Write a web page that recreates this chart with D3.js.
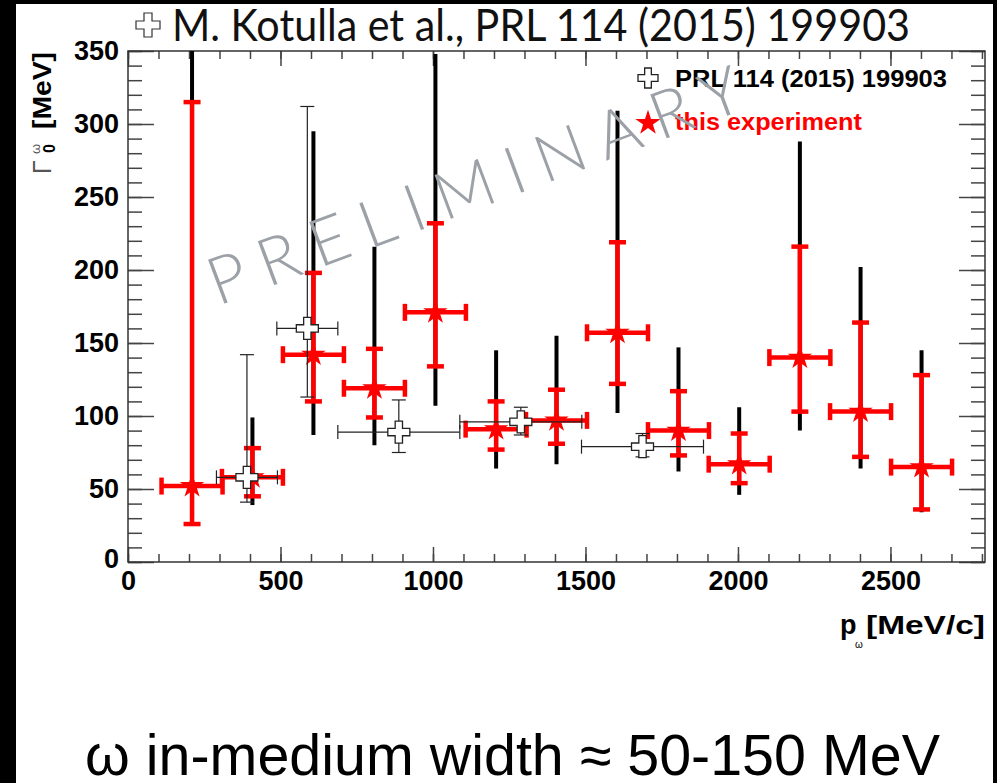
<!DOCTYPE html>
<html>
<head>
<meta charset="utf-8">
<script src="https://cdn.jsdelivr.net/npm/d3@7"></script>
<style>
  html, body { margin: 0; padding: 0; background: #000; }
  svg { display: block; }
</style>
</head>
<body>
<script>
// ---- data: this experiment (red stars) ----
const expP = [210, 408, 608, 808, 1008, 1207, 1405, 1605, 1805, 2004, 2203, 2402, 2602];
const expPErr = [100, 100, 100, 100, 100, 100, 100, 100, 100, 100, 100, 100, 100];
const expWidth = [52, 58, 142, 119, 171, 91, 97, 157, 90, 67, 140, 103, 65];
const expStatLo = [26, 45, 110, 99, 134, 77, 81, 122, 73, 54, 103, 72, 36];
const expStatHi = [315, 78, 198, 146, 232, 110, 118, 219, 117, 88, 216, 164, 128];
const expSysLo = [30, 39, 87, 80, 107, 64, 67, 102, 62, 46, 90, 64, 34];
const expSysHi = [400, 99, 295, 216, 348, 145, 155, 309, 147, 106, 288, 202, 145];

// ---- data: PRL 114 (2015) 199903 (open crosses) ----
const prlP = [390, 588, 888, 1288, 1687];
const prlPErr = [100, 100, 200, 200, 200];
const prlWidth = [58, 160, 89, 96, 79];
const prlLo = [41, 113, 75, 87, 72];
const prlHi = [142, 312, 111, 106, 88];

const xMajor = [0, 500, 1000, 1500, 2000, 2500];
const yMajor = [0, 50, 100, 150, 200, 250, 300, 350];

const titleText = 'M. Kotulla et al., PRL 114 (2015) 199903';
const footText = 'ω in-medium width ≈ 50-150 MeV';
const legendPrl = 'PRL 114 (2015) 199903';
const legendExp = 'this experiment';
const watermark = 'PRELIMINARY';

const W = 997, H = 783;
const frame = { left: 128, right: 985, top: 51, bottom: 562 };
const RED = '#ff0000';
const SANS = '"Liberation Sans", Arial, sans-serif';

const svg = d3.select('body').append('svg').attr('width', W).attr('height', H);

// slide background with black border
svg.append('rect').attr('width', W).attr('height', H).attr('fill', '#000');
svg.append('rect').attr('x', 16).attr('y', 4).attr('width', 977).attr('height', H - 4).attr('fill', '#fff');

const x = d3.scaleLinear().domain([0, 2810]).range([frame.left, frame.right]);
const y = d3.scaleLinear().domain([0, 350]).range([frame.bottom, frame.top]);

function crossPath(s) {
  const a = s / 2, b = s / 6;
  return `M${-b},${-a}H${b}V${-b}H${a}V${b}H${b}V${a}H${-b}V${b}H${-a}V${-b}H${-b}Z`;
}

// ---- title ----
svg.append('path')
  .attr('d', crossPath(24))
  .attr('transform', 'translate(148,25)')
  .attr('fill', '#fff').attr('stroke', '#333').attr('stroke-width', 1.2);
svg.append('text')
  .attr('x', 172).attr('y', 41)
  .attr('font-family', 'Lato, "Open Sans", sans-serif')
  .attr('font-size', 44)
  .attr('textLength', 738).attr('lengthAdjust', 'spacingAndGlyphs')
  .attr('fill', '#111')
  .text(titleText);

// ---- axes ----
const axes = svg.append('g');
const tickCol = '#444';

function styleAxis(g) {
  g.select('.domain').remove();
  g.selectAll('line').attr('stroke', tickCol).attr('stroke-width', 1.5);
}

// bottom
axes.append('g').attr('transform', `translate(0,${frame.bottom})`)
  .call(d3.axisBottom(x).tickValues(d3.range(0, 2801, 100)).tickSize(-8).tickFormat(''))
  .call(styleAxis);
const xb = axes.append('g').attr('transform', `translate(0,${frame.bottom})`)
  .call(d3.axisBottom(x).tickValues(xMajor).tickSizeInner(-15).tickSizeOuter(0).tickPadding(9).tickFormat(d3.format('d')))
  .call(styleAxis);
// top
axes.append('g').attr('transform', `translate(0,${frame.top})`)
  .call(d3.axisTop(x).tickValues(d3.range(0, 2801, 100)).tickSize(-8).tickFormat(''))
  .call(styleAxis);
axes.append('g').attr('transform', `translate(0,${frame.top})`)
  .call(d3.axisTop(x).tickValues(xMajor).tickSize(-15).tickFormat(''))
  .call(styleAxis);
// left
axes.append('g').attr('transform', `translate(${frame.left},0)`)
  .call(d3.axisLeft(y).tickValues(d3.range(0, 351, 10)).tickSize(-14).tickFormat(''))
  .call(styleAxis);
const yl = axes.append('g').attr('transform', `translate(${frame.left},0)`)
  .call(d3.axisLeft(y).tickValues(yMajor).tickSizeInner(-26).tickSizeOuter(0).tickPadding(9).tickFormat(d3.format('d')))
  .call(styleAxis);
// right
axes.append('g').attr('transform', `translate(${frame.right},0)`)
  .call(d3.axisRight(y).tickValues(d3.range(0, 351, 10)).tickSize(-14).tickFormat(''))
  .call(styleAxis);
axes.append('g').attr('transform', `translate(${frame.right},0)`)
  .call(d3.axisRight(y).tickValues(yMajor).tickSize(-26).tickFormat(''))
  .call(styleAxis);

[xb, yl].forEach(g => g.selectAll('text')
  .attr('font-family', SANS)
  .attr('font-weight', 'bold')
  .attr('font-size', 27)
  .attr('fill', '#000'));
yl.selectAll('.tick').filter(d => d === 0).select('text').attr('dy', '0.2em');

// frame
svg.append('rect')
  .attr('x', frame.left).attr('y', frame.top)
  .attr('width', frame.right - frame.left).attr('height', frame.bottom - frame.top)
  .attr('fill', 'none').attr('stroke', '#333').attr('stroke-width', 1.5);

// ---- axis titles ----
const xt = svg.append('g')
  .attr('font-family', SANS)
  .attr('font-weight', 'bold').attr('fill', '#000');
xt.append('text').attr('x', 840).attr('y', 634).attr('font-size', 27).text('p');
xt.append('text').attr('x', 855).attr('y', 648).attr('font-size', 10).attr('font-weight', 'normal').text('ω');
xt.append('text').attr('x', 866).attr('y', 634).attr('font-size', 26)
  .attr('textLength', 119).attr('lengthAdjust', 'spacingAndGlyphs').text('[MeV/c]');

const yt = svg.append('g').attr('transform', 'translate(51,0) rotate(-90)')
  .attr('font-family', SANS);
yt.append('text').attr('x', -174).attr('y', 0).attr('font-size', 25).attr('fill', '#555').text('Γ');
yt.append('text').attr('x', -153).attr('y', 4).attr('font-size', 16).attr('font-weight', 'bold').text('0');
yt.append('text').attr('x', -154).attr('y', -11).attr('font-size', 13).attr('fill', '#555').text('ω');
yt.append('text').attr('x', -129).attr('y', 0).attr('font-size', 26).attr('font-weight', 'bold')
  .attr('textLength', 77).attr('lengthAdjust', 'spacingAndGlyphs').text('[MeV]');

// ---- data ----
svg.append('clipPath').attr('id', 'plot-clip').append('rect')
  .attr('x', frame.left).attr('y', frame.top)
  .attr('width', frame.right - frame.left).attr('height', frame.bottom - frame.top);
const plot = svg.append('g').attr('clip-path', 'url(#plot-clip)');

const exp = expP.map((p, i) => ({
  p, dp: expPErr[i], w: expWidth[i],
  lo: expStatLo[i], hi: expStatHi[i], slo: expSysLo[i], shi: expSysHi[i]
}));
const prl = prlP.map((p, i) => ({ p, dp: prlPErr[i], w: prlWidth[i], lo: prlLo[i], hi: prlHi[i] }));

// systematic errors (black thick bars)
plot.append('g').selectAll('line').data(exp).join('line')
  .attr('x1', d => x(d.p)).attr('x2', d => x(d.p))
  .attr('y1', d => y(d.slo)).attr('y2', d => y(d.shi))
  .attr('stroke', '#000').attr('stroke-width', 4);

// statistical errors (red)
const eg = plot.append('g').attr('stroke', RED).attr('stroke-width', 4.5).attr('fill', 'none');
eg.selectAll('.v').data(exp).join('line')
  .attr('x1', d => x(d.p)).attr('x2', d => x(d.p))
  .attr('y1', d => y(d.lo)).attr('y2', d => y(d.hi));
eg.selectAll('.h').data(exp).join('line')
  .attr('x1', d => x(d.p - d.dp)).attr('x2', d => x(d.p + d.dp))
  .attr('y1', d => y(d.w)).attr('y2', d => y(d.w));
eg.selectAll('.cy').data(exp.flatMap(d => [[d.p, d.lo], [d.p, d.hi]])).join('line')
  .attr('x1', d => x(d[0]) - 8.5).attr('x2', d => x(d[0]) + 8.5)
  .attr('y1', d => y(d[1])).attr('y2', d => y(d[1]));
eg.selectAll('.cx').data(exp.flatMap(d => [[d.p - d.dp, d.w], [d.p + d.dp, d.w]])).join('line')
  .attr('x1', d => x(d[0])).attr('x2', d => x(d[0]))
  .attr('y1', d => y(d[1]) - 8.5).attr('y2', d => y(d[1]) + 8.5);

const star = d3.symbol().type(d3.symbolStar).size(185);
plot.append('g').selectAll('path').data(exp).join('path')
  .attr('d', star)
  .attr('transform', d => `translate(${x(d.p)},${y(d.w)})`)
  .attr('fill', RED);

// PRL points (thin black errors, open crosses)
const pg = plot.append('g').attr('stroke', '#222').attr('stroke-width', 1.2).attr('fill', 'none');
pg.selectAll('.v').data(prl).join('line')
  .attr('x1', d => x(d.p)).attr('x2', d => x(d.p))
  .attr('y1', d => y(d.lo)).attr('y2', d => y(d.hi));
pg.selectAll('.h').data(prl).join('line')
  .attr('x1', d => x(d.p - d.dp)).attr('x2', d => x(d.p + d.dp))
  .attr('y1', d => y(d.w)).attr('y2', d => y(d.w));
pg.selectAll('.cy').data(prl.flatMap(d => [[d.p, d.lo], [d.p, d.hi]])).join('line')
  .attr('x1', d => x(d[0]) - 7).attr('x2', d => x(d[0]) + 7)
  .attr('y1', d => y(d[1])).attr('y2', d => y(d[1]));
pg.selectAll('.cx').data(prl.flatMap(d => [[d.p - d.dp, d.w], [d.p + d.dp, d.w]])).join('line')
  .attr('x1', d => x(d[0])).attr('x2', d => x(d[0]))
  .attr('y1', d => y(d[1]) - 7).attr('y2', d => y(d[1]) + 7);
plot.append('g').selectAll('path').data(prl).join('path')
  .attr('d', crossPath(22))
  .attr('transform', d => `translate(${x(d.p)},${y(d.w)})`)
  .attr('fill', '#fff').attr('stroke', '#222').attr('stroke-width', 1.3);

// ---- legend ----
const lg = svg.append('g').attr('font-family', SANS).attr('font-weight', 'bold');
lg.append('path').attr('d', crossPath(20)).attr('transform', 'translate(648,78)')
  .attr('fill', '#fff').attr('stroke', '#222').attr('stroke-width', 1.3);
lg.append('text').attr('x', 675).attr('y', 87).attr('font-size', 24).attr('fill', '#000')
  .attr('textLength', 272).attr('lengthAdjust', 'spacingAndGlyphs').text(legendPrl);
lg.append('path').attr('d', d3.symbol().type(d3.symbolStar).size(200)()).attr('transform', 'translate(648,123)')
  .attr('fill', RED);
lg.append('text').attr('x', 675).attr('y', 130).attr('font-size', 24).attr('fill', RED)
  .attr('textLength', 187).attr('lengthAdjust', 'spacingAndGlyphs').text(legendExp);

// ---- watermark ----
svg.append('text')
  .attr('transform', 'translate(218,306) rotate(-20.5)')
  .attr('font-family', 'Lato, "DejaVu Sans", sans-serif')
  .attr('font-weight', 300)
  .attr('font-size', 66)
  .attr('fill', '#9ca1a7')
  .attr('textLength', 565).attr('lengthAdjust', 'spacing')
  .text(watermark);

// ---- footer ----
svg.append('text')
  .attr('x', 85).attr('y', 775)
  .attr('font-family', '"Liberation Sans Narrow", "Liberation Sans", Arial, sans-serif')
  .attr('font-size', 57)
  .attr('fill', '#000')
  .attr('textLength', 855).attr('lengthAdjust', 'spacingAndGlyphs')
  .text(footText);
</script>
</body>
</html>
